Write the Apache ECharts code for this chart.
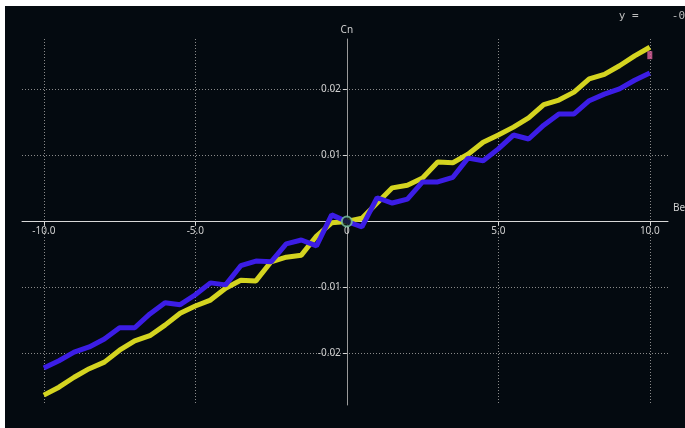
<!DOCTYPE html>
<html>
<head>
<meta charset="utf-8">
<script src="https://cdn.jsdelivr.net/npm/echarts@6/dist/echarts.min.js"></script>
<style>
  html, body { margin: 0; padding: 0; background: #ffffff; }
  #chart { position: absolute; left: 5px; top: 6px; width: 680px; height: 422px; background: #040a10; }
</style>
</head>
<body>
<div id="chart"></div>
<script>
// beta values (x) and the two Cn curves
const betaValues = [-10, -9.5, -9, -8.5, -8, -7.5, -7, -6.5, -6, -5.5, -5, -4.5, -4, -3.5, -3, -2.5, -2, -1.5, -1, -0.5,
  0, 0.5, 1, 1.5, 2, 2.5, 3, 3.5, 4, 4.5, 5, 5.5, 6, 6.5, 7, 7.5, 8, 8.5, 9, 9.5, 10];
const cnYellow = [-0.0263, -0.0251, -0.0236, -0.0223, -0.0213, -0.0195, -0.0181, -0.0173, -0.0157, -0.0139,
  -0.0128, -0.0119, -0.0101, -0.0089, -0.0090, -0.0061, -0.0054, -0.0051, -0.0022, -0.0002,
  0, 0.0005, 0.0028, 0.0051, 0.0055, 0.0066, 0.0090, 0.0089, 0.0102, 0.0120,
  0.0131, 0.0143, 0.0157, 0.0177, 0.0184, 0.0196, 0.0216, 0.0223, 0.0236, 0.0251, 0.0264];
const cnBlue = [-0.0222, -0.0211, -0.0198, -0.0190, -0.0178, -0.0161, -0.0161, -0.0140, -0.0123, -0.0126,
  -0.0111, -0.0093, -0.0096, -0.0067, -0.0060, -0.0061, -0.0034, -0.0028, -0.0037, 0.0010,
  0, -0.0008, 0.0036, 0.0028, 0.0034, 0.0060, 0.0060, 0.0067, 0.0096, 0.0092,
  0.0110, 0.0131, 0.0125, 0.0146, 0.0163, 0.0163, 0.0183, 0.0193, 0.0201, 0.0214, 0.0225];
const xTicks = [-10, -5, 0, 5, 10];
const yTicks = [-0.02, -0.01, 0, 0.01, 0.02];
const originPoint = [0, 0];
const cursorPoint = [10, 0.0252];

function pairs(xs, ys) {
  return xs.map(function (x, i) { return [x, ys[i]]; });
}

let myChart = echarts.init(document.getElementById('chart'));

const xMin = -10.72, xMax = 10.6;
const yMin = -0.0278, yMax = 0.02765;
const gridBox = { left: 17, right: 17, top: 33, bottom: 23 };
const plotW = 680 - gridBox.left - gridBox.right;
const plotH = 422 - gridBox.top - gridBox.bottom;
// move the axes (with their labels) onto the zero lines
const yAxisOffset = -(0 - xMin) / (xMax - xMin) * plotW;
const xAxisOffset = -(0 - yMin) / (yMax - yMin) * plotH;

const labelStyle = {
  color: '#cfcfcf',
  fontSize: 10,
  fontFamily: 'Noto Sans'
};

let option = {
  backgroundColor: '#040a10',
  animation: false,
  grid: {
    left: gridBox.left,
    right: gridBox.right,
    top: gridBox.top,
    bottom: gridBox.bottom,
    outerBoundsMode: 'none'
  },
  xAxis: {
    type: 'value',
    min: xMin,
    max: xMax,
    position: 'bottom',
    offset: xAxisOffset,
    name: 'Be',
    nameLocation: 'end',
    nameGap: 5,
    nameTextStyle: {
      color: '#cfcfcf',
      fontSize: 10,
      fontFamily: 'Noto Sans',
      verticalAlign: 'bottom',
      padding: [0, 0, 8, 0]
    },
    axisLine: {
      onZero: false,
      lineStyle: { color: '#d8d8d8', width: 1 }
    },
    axisTick: {
      customValues: xTicks,
      length: 4,
      lineStyle: { color: '#d8d8d8' }
    },
    axisLabel: Object.assign({
      customValues: xTicks,
      margin: 5,
      formatter: function (v) { return v === 0 ? '0' : v.toFixed(1); }
    }, labelStyle),
    splitLine: {
      show: true,
      lineStyle: { color: '#8a8a8a', type: [1, 2], width: 1 }
    }
  },
  yAxis: {
    type: 'value',
    min: yMin,
    max: yMax,
    position: 'left',
    offset: yAxisOffset,
    name: 'Cn',
    nameLocation: 'end',
    nameGap: 4,
    nameTextStyle: {
      color: '#cfcfcf',
      fontSize: 10,
      fontFamily: 'Noto Sans'
    },
    axisLine: {
      onZero: false,
      lineStyle: { color: '#9a9a9a', width: 1 }
    },
    axisTick: {
      customValues: yTicks,
      length: 4,
      lineStyle: { color: '#d8d8d8' }
    },
    axisLabel: Object.assign({
      customValues: yTicks,
      margin: 6,
      formatter: function (v) { return v === 0 ? '' : v.toFixed(2); }
    }, labelStyle),
    splitLine: {
      show: true,
      lineStyle: { color: '#8a8a8a', type: [1, 2], width: 1 }
    }
  },
  graphic: [
    {
      type: 'text',
      right: 0,
      top: 5,
      style: {
        text: 'y =     -0',
        fill: '#bdbdbd',
        font: '11px "DejaVu Sans Mono"'
      }
    }
  ],
  series: [
    {
      name: 'yellow',
      type: 'line',
      data: pairs(betaValues, cnYellow),
      showSymbol: false,
      symbol: 'none',
      lineStyle: { color: '#d4d420', width: 5 },
      z: 2
    },
    {
      name: 'blue',
      type: 'line',
      data: pairs(betaValues, cnBlue),
      showSymbol: false,
      symbol: 'none',
      lineStyle: { color: '#3c1de6', width: 5 },
      z: 3
    },
    {
      name: 'origin',
      type: 'scatter',
      data: [originPoint],
      symbol: 'circle',
      symbolSize: 10,
      itemStyle: { color: '#0b1a14', borderColor: '#7cc4a4', borderWidth: 2 },
      z: 5
    },
    {
      name: 'cursor',
      type: 'scatter',
      data: [cursorPoint],
      symbol: 'rect',
      symbolSize: [5, 8],
      itemStyle: { color: '#e0629c' },
      z: 5
    }
  ]
};

myChart.setOption(option);
</script>
</body>
</html>
